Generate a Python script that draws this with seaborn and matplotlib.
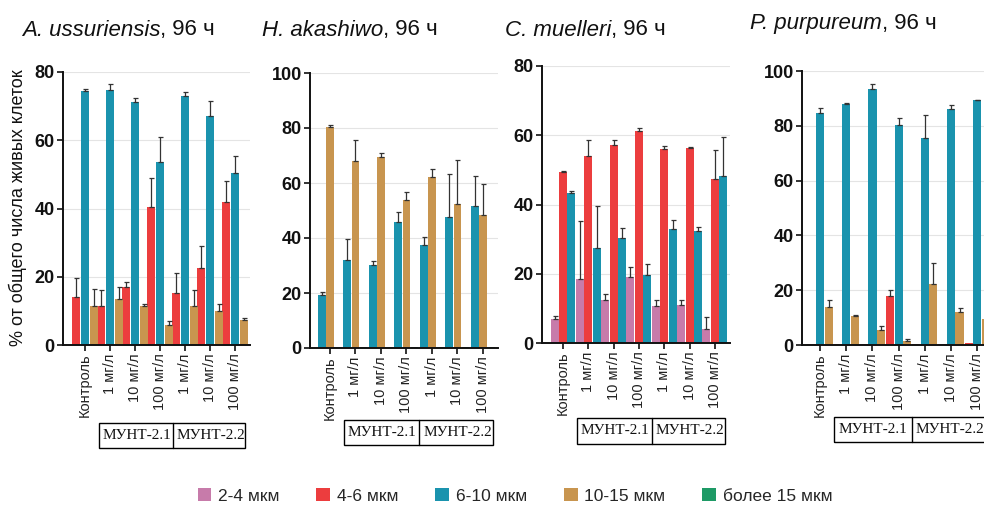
import matplotlib
matplotlib.use("Agg")
import numpy as np
import pandas as pd
import seaborn as sns
import matplotlib.pyplot as plt
from matplotlib.patches import Rectangle, Patch
from matplotlib.transforms import blended_transform_factory, offset_copy

# ---------------- data ----------------
group_labels = ["Контроль", "1 мг/л", "10 мг/л", "100 мг/л", "1 мг/л", "10 мг/л", "100 мг/л"]
size_classes = ["2-4 мкм", "4-6 мкм", "6-10 мкм", "10-15 мкм", "более 15 мкм"]
box_labels = ["МУНТ-2.1", "МУНТ-2.2"]

# A. ussuriensis
au_red = [14.0, 11.5, 17.0, 40.3, 15.3, 22.5, 42.0]
au_red_err = [5.5, 4.5, 1.5, 8.5, 5.7, 6.5, 6.0]
au_teal = [74.5, 74.7, 71.3, 53.5, 73.0, 67.0, 50.5]
au_teal_err = [0.5, 1.8, 1.2, 7.5, 1.0, 4.5, 5.0]
au_tan = [11.5, 13.5, 11.5, 6.0, 11.5, 10.0, 7.3]
au_tan_err = [5.0, 3.5, 0.5, 1.0, 4.5, 2.0, 0.7]

# H. akashiwo
ha_teal = [19.3, 32.0, 30.2, 46.0, 37.5, 47.5, 51.5]
ha_teal_err = [0.9, 7.5, 1.3, 3.3, 2.8, 15.8, 11.0]
ha_tan = [80.3, 68.0, 69.5, 54.0, 62.3, 52.5, 48.2]
ha_tan_err = [0.7, 7.5, 1.5, 2.7, 2.7, 16.0, 11.3]
ha_green = [0.3, 0.2, 0.3, 0.3, 0.3, 0.3, 0.3]
ha_green_err = [0.0, 0.0, 0.0, 0.0, 0.0, 0.0, 0.0]

# C. muelleri
cm_pink = [7.0, 18.5, 12.3, 19.0, 10.6, 11.1, 4.1]
cm_pink_err = [0.8, 16.7, 1.8, 3.0, 1.8, 1.3, 3.5]
cm_red = [49.3, 54.0, 57.2, 61.2, 56.0, 56.3, 47.5]
cm_red_err = [0.4, 4.5, 1.5, 0.8, 1.0, 0.2, 8.3]
cm_teal = [43.3, 27.3, 30.2, 19.5, 33.0, 32.3, 48.2]
cm_teal_err = [0.7, 12.4, 3.0, 3.2, 2.5, 1.2, 11.3]

# P. purpureum
pp_red = [0.5, 0.5, 0.5, 18.0, 0.4, 0.5, 0.6]
pp_red_err = [0.0, 0.0, 0.0, 2.2, 0.0, 0.0, 0.0]
pp_teal = [84.5, 88.0, 93.3, 80.3, 75.7, 86.3, 89.3]
pp_teal_err = [2.0, 0.3, 2.0, 2.4, 8.3, 1.4, 0.2]
pp_tan = [13.8, 10.5, 5.3, 1.5, 22.4, 12.2, 9.5]
pp_tan_err = [2.5, 0.5, 1.7, 0.7, 7.6, 1.3, 0.3]

colors = {"2-4 мкм": "#C77BAA", "4-6 мкм": "#EC3D3E", "6-10 мкм": "#1A93AE",
          "10-15 мкм": "#C8954F", "более 15 мкм": "#1E9A66"}

panels = [
    dict(species="A. ussuriensis", ymax=80,
         series={"4-6 мкм": (au_red, au_red_err), "6-10 мкм": (au_teal, au_teal_err),
                 "10-15 мкм": (au_tan, au_tan_err)},
         px=(63, 250, 72, 345), xlim=(-0.88, 6.6), width=1.04,
         title_xy=(22, 30), box_y=(423, 448)),
    dict(species="H. akashiwo", ymax=100,
         series={"6-10 мкм": (ha_teal, ha_teal_err), "10-15 мкм": (ha_tan, ha_tan_err),
                 "более 15 мкм": (ha_green, ha_green_err)},
         px=(310, 498, 73, 348), xlim=(-0.78, 6.59), width=0.96,
         title_xy=(262, 30), box_y=(420, 445)),
    dict(species="C. muelleri", ymax=80,
         series={"2-4 мкм": (cm_pink, cm_pink_err), "4-6 мкм": (cm_red, cm_red_err),
                 "6-10 мкм": (cm_teal, cm_teal_err)},
         px=(542, 730, 66, 343), xlim=(-0.83, 6.6), width=1.0,
         title_xy=(505, 30), box_y=(418, 444)),
    dict(species="P. purpureum", ymax=100,
         series={"4-6 мкм": (pp_red, pp_red_err), "6-10 мкм": (pp_teal, pp_teal_err),
                 "10-15 мкм": (pp_tan, pp_tan_err)},
         px=(802, 984, 71, 345), xlim=(-0.69, 6.26), width=0.98,
         title_xy=(750, 23), box_y=(417, 442)),
]

# ---------------- style ----------------
sns.set_theme(style="white")
plt.rcParams['font.family'] = ['Liberation Sans', 'DejaVu Sans']

W, H = 984, 507
fig = plt.figure(figsize=(W / 100, H / 100), dpi=100)

for pan in panels:
    l, r, t, b = pan["px"]
    ax = fig.add_axes([l / W, 1 - b / H, (r - l) / W, (b - t) / H])
    rows = []
    for name, (vals, errs) in pan["series"].items():
        for gi, v in enumerate(vals):
            rows.append({"group": gi, "size": name, "value": v})
    df = pd.DataFrame(rows)
    hue_order = list(pan["series"].keys())
    sns.barplot(data=df, x="group", y="value", hue="size", hue_order=hue_order,
                palette=colors, width=pan["width"], gap=0.05, errorbar=None,
                legend=False, ax=ax, saturation=1, linewidth=0)
    # error bars (upper only)
    by_group = {}
    for p in ax.patches:
        cx = p.get_x() + p.get_width() / 2
        by_group.setdefault(int(round(cx)), []).append(p)
    for gi, plist in by_group.items():
        plist.sort(key=lambda p: p.get_x())
        for hi, p in enumerate(plist):
            e = pan["series"][hue_order[hi]][1][gi]
            if e > 0:
                cx = p.get_x() + p.get_width() / 2
                ax.errorbar([cx], [p.get_height()], yerr=[[0], [e]], fmt='none',
                            ecolor='#333333', elinewidth=0.9, capsize=1.8,
                            capthick=0.9, zorder=3)
    ax.set_xlim(*pan["xlim"])
    ax.set_ylim(0, pan["ymax"])
    ax.set_yticks(np.arange(0, pan["ymax"] + 1, 20))
    ax.set_xticks(range(len(group_labels)))
    ax.set_xticklabels(group_labels, rotation=90, fontsize=10.5, color='#222222')
    for lab in ax.get_yticklabels():
        lab.set_fontweight('bold')
        lab.set_fontsize(13)
        lab.set_color('#111111')
    ax.set_xlabel("")
    ax.set_ylabel("")
    ax.yaxis.grid(True, color='#e4e4e4', linewidth=0.8)
    ax.set_axisbelow(True)
    for s in ["top", "right"]:
        ax.spines[s].set_visible(False)
    for s in ["left", "bottom"]:
        ax.spines[s].set_color('#111111')
        ax.spines[s].set_linewidth(1.4)
    ax.tick_params(axis='y', length=4, width=1.2, color='#111111', pad=2, left=True)
    ax.tick_params(axis='x', length=4, width=1.2, color='#111111', pad=2, bottom=True)

    # МУНТ box below the axis
    tr = blended_transform_factory(ax.transData, fig.transFigure)
    y_top = 1 - pan["box_y"][0] / H
    y_bot = 1 - pan["box_y"][1] / H
    x_left, x_mid, x_right = 0.55, 3.5, 6.4
    ax.add_patch(Rectangle((x_left, y_bot), x_right - x_left, y_top - y_bot,
                           transform=tr, fill=False, edgecolor='black',
                           linewidth=1.0, clip_on=False))
    ax.plot([x_mid, x_mid], [y_bot, y_top], transform=tr, color='black',
            linewidth=1.0, clip_on=False)
    tr_txt = offset_copy(tr, fig=fig, x=4, y=0, units='dots')
    for xs, txt in zip([x_left, x_mid], box_labels):
        ax.text(xs, (y_top + y_bot) / 2, txt, transform=tr_txt, ha='left', va='center',
                fontsize=11, family=['Liberation Serif', 'DejaVu Serif'],
                color='#111111')

# titles: italic species + regular suffix
fig.canvas.draw()
renderer = fig.canvas.get_renderer()
for pan in panels:
    x0, y0 = pan["title_xy"]
    t1 = fig.text(x0 / W, 1 - y0 / H, pan["species"], fontsize=16, style='italic',
                  ha='left', va='center', color='#111111')
    bb = t1.get_window_extent(renderer=renderer)
    fig.text(bb.x1 / W, 1 - y0 / H, ", 96 ч", fontsize=16, ha='left', va='center',
             color='#111111')

# y label
fig.text(18 / W, 1 - 208 / H, "% от общего числа живых клеток", rotation=90,
         fontsize=13, ha='center', va='center', color='#111111')

# legend
handles = [Patch(facecolor=colors[s], edgecolor='none', label=s) for s in size_classes]
fig.legend(handles=handles, ncol=5, loc='center', bbox_to_anchor=(515 / W, 1 - 496 / H),
           frameon=False, fontsize=12.5, handlelength=0.8, handleheight=0.8,
           handletextpad=0.4, columnspacing=2.1)

fig.savefig("out.png", dpi=100)
